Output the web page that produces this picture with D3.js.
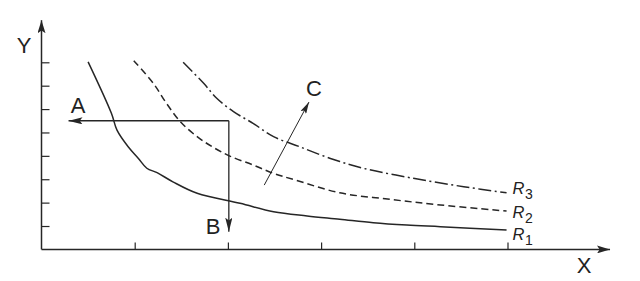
<!DOCTYPE html>
<html>
<head>
<meta charset="utf-8">
<script src="https://cdn.jsdelivr.net/npm/d3@7/dist/d3.min.js"></script>
<style>
  html, body { margin: 0; padding: 0; background: #fff; }
  svg { display: block; }
  text { font-family: "Liberation Sans", Arial, sans-serif; fill: #222; }
</style>
</head>
<body>
<div id="chart"></div>
<script>
// curve data (x and y in axis units)
const r1X = [0.50, 0.75, 0.81, 0.93, 1.04, 1.13, 1.24, 1.41, 1.67, 2.13, 2.49, 2.85, 3.20, 3.56, 3.92, 4.28, 4.99];
const r1Y = [8.02, 5.82, 5.10, 4.39, 3.89, 3.47, 3.28, 2.89, 2.40, 1.97, 1.61, 1.43, 1.29, 1.14, 1.04, 0.97, 0.83];

const r2X = [0.99, 1.20, 1.34, 1.49, 1.67, 1.84, 2.02, 2.27, 2.49, 2.72, 3.20, 3.74, 4.28, 4.99];
const r2Y = [8.07, 7.10, 6.25, 5.46, 4.82, 4.37, 3.99, 3.61, 3.25, 2.97, 2.42, 2.14, 1.90, 1.64];

const r3X = [1.52, 1.74, 1.88, 2.06, 2.27, 2.49, 2.77, 3.10, 3.45, 3.99, 4.53, 4.99];
const r3Y = [8.00, 7.10, 6.46, 5.89, 5.39, 4.82, 4.39, 3.89, 3.47, 3.04, 2.68, 2.42];

const seriesNames = ["1", "2", "3"];
const xTicks = [1, 2, 3, 4, 5];
const yTicks = [1, 2, 3, 4, 5, 6, 7, 8];

// A/B operating point and the C direction arrow
const pointAB = [2.01, 5.50];
const arrowAEnd = 0.29;
const arrowBEnd = 0.76;
const arrowC = [[2.39, 2.75], [2.87, 6.30]];

const width = 640, height = 281;
const ink = "#262626";

const svg = d3.select("#chart").append("svg")
  .attr("width", width)
  .attr("height", height);

const x = d3.scaleLinear().domain([0, 5]).range([41.5, 507.5]);
const y = d3.scaleLinear().domain([0, 8]).range([249.4, 62.3]);
const xEnd = 6.1, yEnd = 9.8;

// arrow heads
const defs = svg.append("defs");
function addArrow(id, len, half) {
  defs.append("marker")
    .attr("id", id)
    .attr("markerUnits", "userSpaceOnUse")
    .attr("viewBox", `0 ${-half} ${len} ${half * 2}`)
    .attr("refX", len).attr("refY", 0)
    .attr("markerWidth", len).attr("markerHeight", half * 2)
    .attr("orient", "auto")
    .append("path")
    .attr("d", `M0,${-half}L${len},0L0,${half}L${len * 0.2},0Z`)
    .attr("fill", ink);
}
addArrow("axisHead", 13, 4);
addArrow("bigHead", 14, 3.6);
addArrow("smallHead", 12, 3.2);

// axes: ticks point inward, no labels
svg.append("g")
  .attr("transform", `translate(0,${y(0)})`)
  .call(d3.axisBottom(x).tickValues(xTicks).tickSize(-7).tickSizeOuter(0).tickFormat(""))
  .call(g => g.select(".domain").remove())
  .selectAll("line").attr("stroke", ink).attr("stroke-width", 1.2);

svg.append("g")
  .attr("transform", `translate(${x(0)},0)`)
  .call(d3.axisLeft(y).tickValues(yTicks).tickSize(-8).tickSizeOuter(0).tickFormat(""))
  .call(g => g.select(".domain").remove())
  .selectAll("line").attr("stroke", ink).attr("stroke-width", 1.2);

svg.append("line")
  .attr("x1", x(0)).attr("y1", y(0))
  .attr("x2", x(xEnd)).attr("y2", y(0))
  .attr("stroke", ink).attr("stroke-width", 1.5)
  .attr("marker-end", "url(#axisHead)");

svg.append("line")
  .attr("x1", x(0)).attr("y1", y(0))
  .attr("x2", x(0)).attr("y2", y(yEnd))
  .attr("stroke", ink).attr("stroke-width", 1.5)
  .attr("marker-end", "url(#axisHead)");

svg.append("text").attr("x", 24).attr("y", 53)
  .attr("text-anchor", "middle").attr("font-size", 22).text("Y");
svg.append("text").attr("x", 584).attr("y", 273)
  .attr("text-anchor", "middle").attr("font-size", 22).text("X");

// curves
const line = d3.line()
  .x(d => x(d[0]))
  .y(d => y(d[1]))
  .curve(d3.curveCatmullRom.alpha(0.5));

const series = [
  { name: seriesNames[0], pts: d3.zip(r1X, r1Y), dash: null, dy: 10 },
  { name: seriesNames[1], pts: d3.zip(r2X, r2Y), dash: "7,4", dy: 6.7 },
  { name: seriesNames[2], pts: d3.zip(r3X, r3Y), dash: "13,3.5,2,3.5", dy: 0.8 }
];

svg.selectAll(".curve")
  .data(series)
  .enter()
  .append("path")
  .attr("class", "curve")
  .attr("d", d => line(d.pts))
  .attr("fill", "none")
  .attr("stroke", ink)
  .attr("stroke-width", 1.5)
  .attr("stroke-dasharray", d => d.dash);

// R labels at the right end of each curve
const rLabel = svg.selectAll(".rlabel")
  .data(series)
  .enter()
  .append("text")
  .attr("class", "rlabel")
  .attr("x", d => x(d.pts[d.pts.length - 1][0]) + 6)
  .attr("y", d => y(d.pts[d.pts.length - 1][1]) + d.dy)
  .attr("font-size", 16.5);
rLabel.append("tspan").attr("font-style", "italic").text("R");
rLabel.append("tspan").attr("font-size", 14).attr("dx", 0.5).attr("dy", 5.5).text(d => d.name);

// A and B lines
svg.append("path")
  .attr("d", `M${x(pointAB[0])},${y(pointAB[1])}L${x(arrowAEnd)},${y(pointAB[1])}`)
  .attr("stroke", ink).attr("stroke-width", 1.3).attr("fill", "none")
  .attr("marker-end", "url(#bigHead)");
svg.append("path")
  .attr("d", `M${x(pointAB[0])},${y(pointAB[1])}L${x(pointAB[0])},${y(arrowBEnd)}`)
  .attr("stroke", ink).attr("stroke-width", 1.3).attr("fill", "none")
  .attr("marker-end", "url(#bigHead)");

svg.append("path")
  .attr("d", d3.line().x(d => x(d[0])).y(d => y(d[1]))(arrowC))
  .attr("stroke", ink).attr("stroke-width", 1).attr("fill", "none")
  .attr("marker-end", "url(#smallHead)");

svg.append("text").attr("x", 78).attr("y", 112.5)
  .attr("text-anchor", "middle").attr("font-size", 22).text("A");
svg.append("text").attr("x", 213).attr("y", 234)
  .attr("text-anchor", "middle").attr("font-size", 22).text("B");
svg.append("text").attr("x", 314).attr("y", 96)
  .attr("text-anchor", "middle").attr("font-size", 22).text("C");
</script>
</body>
</html>
